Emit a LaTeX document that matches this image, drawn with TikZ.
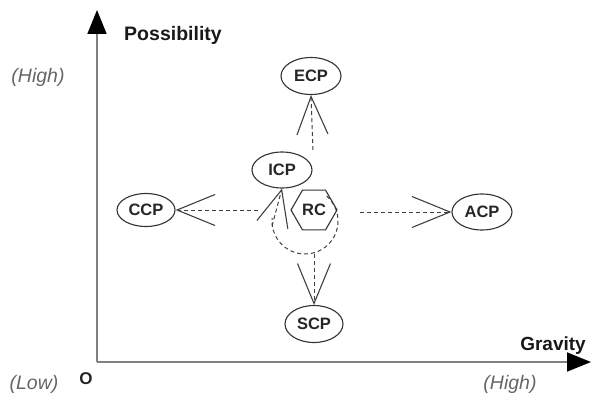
\documentclass[tikz,border=0pt]{standalone}
\usepackage{fontspec}
\setmainfont{Liberation Sans}
\usetikzlibrary{arrows.meta,shapes.geometric}
\begin{document}
\begin{tikzpicture}[x=1pt,y=1pt,
  axis/.style={draw=black!50,line width=1.8pt,-{Triangle[length=24pt,width=19pt,fill=black,color=black]}},
  ell/.style={draw=black!80,line width=1.1pt,ellipse,inner sep=0pt,fill=white,
    font=\fontsize{16.5}{18}\selectfont\bfseries,text=black!85},
  hexa/.style={draw=black!80,line width=1.1pt,regular polygon,regular polygon sides=6,
    minimum size=46pt,inner sep=0pt,font=\fontsize{16.5}{18}\selectfont\bfseries,text=black!85},
  dashconn/.style={draw=black!75,line width=1pt,dash pattern=on 4pt off 3pt,
    -{Straight Barb[length=38pt,width=31pt,line width=1.1pt]}},
  axlabel/.style={font=\fontsize{19.5}{21}\selectfont\bfseries,text=black!90},
  scalelabel/.style={font=\fontsize{19.5}{21}\selectfont\itshape,text=black!60}
]
\useasboundingbox (0,0) rectangle (593,400);
% axes
\coordinate (O) at (97,38);
\coordinate (ytop) at (97,390);
\coordinate (xend) at (591,38);
\draw[axis] (O) -- (ytop);
\draw[axis] (O) -- (xend);
% axis labels
\node[axlabel] (poss) at (173,365) {Possibility};
\node[axlabel,font=\fontsize{19}{21}\selectfont\bfseries] (grav) at (553,54) {Gravity};
\node[scalelabel] (yhigh) at (38,323) {(High)};
\node[scalelabel] (xlow) at (34,16) {(Low)};
\node[scalelabel] (xhigh) at (510,16) {(High)};
\node[font=\fontsize{17}{19}\selectfont\bfseries,text=black!85] (olab) at (86,21) {O};
% dashed circle (partially visible)
\coordinate (rcc) at (305,179);
\draw[draw=black!75,line width=1pt,dash pattern=on 4pt off 3pt]
  ([shift={(49:33)}]rcc) arc[start angle=49,end angle=-185,radius=33];
% nodes
\node[ell,minimum width=60pt,minimum height=37pt] (ECP) at (311,324) {ECP};
\node[ell,minimum width=60pt,minimum height=36pt] (ICP) at (282,230) {ICP};
\node[ell,minimum width=58pt,minimum height=33pt] (CCP) at (146,190) {CCP};
\node[ell,minimum width=60pt,minimum height=36pt] (ACP) at (482,188) {ACP};
\node[ell,minimum width=58pt,minimum height=37pt] (SCP) at (314,76) {SCP};
\node[hexa] (RC) at (314,190) {RC};
% connectors
\coordinate (e0) at (313,250);
\coordinate (c0) at (258,190);
\coordinate (a0) at (360,188);
\coordinate (s0) at (314,146);
\coordinate (i0) at (272,174);
\draw[dashconn] (e0) -- (ECP.south);
\draw[dashconn] (c0) -- (CCP.east);
\draw[dashconn] (a0) -- (ACP.west);
\draw[dashconn,-{Straight Barb[length=40pt,width=33pt,line width=1.1pt]}] (s0) -- (SCP.north);
\draw[dashconn,-{Straight Barb[length=36pt,width=32pt,line width=1.1pt]}] (i0) -- (ICP.south);
\end{tikzpicture}
\end{document}
